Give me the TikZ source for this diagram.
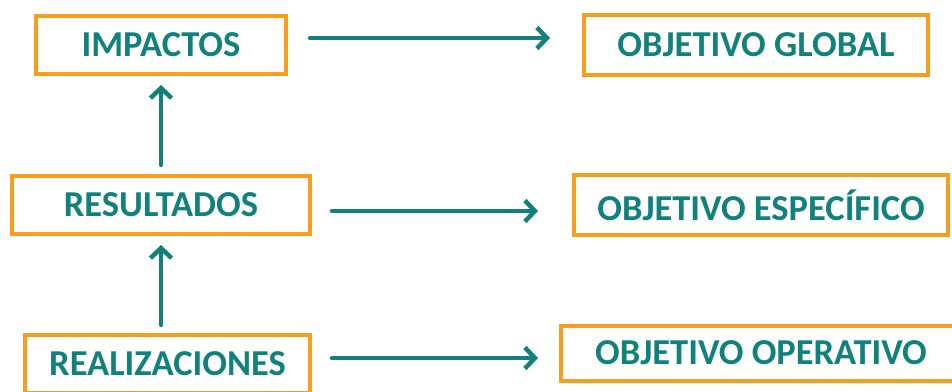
\documentclass[tikz,border=0pt]{standalone}
\usepackage{fontspec}
\setmainfont{Carlito}
\usepackage{xcolor}
\usetikzlibrary{arrows.meta,calc,positioning}
\definecolor{naranja}{RGB}{248,158,28}
\definecolor{verde}{RGB}{16,130,123}
\tikzset{caja/.style={draw=naranja,line width=4pt,inner sep=0pt,align=center,text=verde,
  font=\fontsize{36.5}{40}\selectfont\bfseries},
  flecha/.style={-{Straight Barb[length=10pt,width=21pt]},line width=4.5pt,draw=verde,line cap=round}}
\begin{document}
\begin{tikzpicture}[x=1pt,y=1pt]
\useasboundingbox (0,0) rectangle (952,391);
\node[caja,minimum width=250pt,minimum height=58pt] (imp) at (161,346) {IMPACTOS};
\node[caja,minimum width=298pt,minimum height=58pt] (res) at (161,186) {RESULTADOS};
\node[caja,minimum width=285pt,minimum height=58pt] (rea) at (167.5,27) {REALIZACIONES};
\node[caja,minimum width=344pt,minimum height=60pt] (glo) at (756,346) {OBJETIVO GLOBAL};
\node[caja,minimum width=374pt,minimum height=60pt] (esp) at (761,186) {OBJETIVO ESPECÍFICO};
\node[caja,minimum width=400pt,minimum height=55pt] (ope) at (761,38) {OBJETIVO OPERATIVO};
\draw[flecha] ([xshift=22pt,yshift=7pt]imp.east) -- ([xshift=-32pt,yshift=7pt]glo.west);
\draw[flecha] ([xshift=20pt,yshift=-6pt]res.east) -- ([xshift=-34pt,yshift=-6pt]esp.west);
\draw[flecha] ([xshift=20pt,yshift=6pt]rea.east) -- ([xshift=-21pt,yshift=-5pt]ope.west);
\draw[flecha,shorten <=9pt,shorten >=9pt] (res.north) -- (imp.south);
\draw[flecha,shorten <=8pt,shorten >=9pt] (res.south |- rea.north) -- (res.south);
\end{tikzpicture}
\end{document}
